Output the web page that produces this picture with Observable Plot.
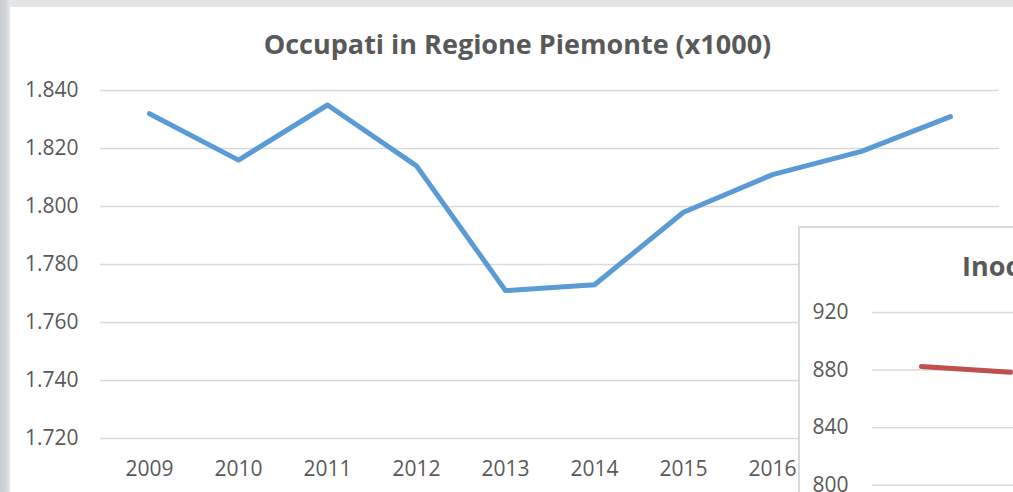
<!DOCTYPE html>
<html>
<head>
<meta charset="utf-8">
<script src="https://cdn.jsdelivr.net/npm/d3@7"></script>
<script src="https://cdn.jsdelivr.net/npm/@observablehq/plot@0.6"></script>
<style>
  html, body { margin: 0; padding: 0; width: 1013px; height: 492px; overflow: hidden; }
  body { position: relative; background: #e3e5e6; font-family: "Open Sans", sans-serif; }
  #leftstrip { position: absolute; left: 0; top: 0; width: 10px; height: 492px;
    background: linear-gradient(to right, #c9cdcf 0%, #d3d7d9 70%, #e9ebec 100%); }
  #panel { position: absolute; left: 10px; top: 7px; width: 1010px; height: 490px; background: #fff; }
  #title { position: absolute; left: 0; top: 26px; width: 1035px; text-align: center;
    font-weight: 700; font-size: 27px; color: #595959; white-space: nowrap; line-height: 36px; }
  #main { position: absolute; left: 0; top: 0; width: 1013px; }
  #inset { position: absolute; left: 798px; top: 226px; width: 600px; height: 400px;
    background: #fff; border: 2px solid #d9d9d9; box-sizing: border-box; }
  #insetplot { position: absolute; left: 799px; top: 227px; width: 1000px; height: 400px; }
  #insetplot svg, #main svg { max-width: none; }
  #insettitle { position: absolute; left: 962px; top: 248px; font-weight: 700; font-size: 27px;
    color: #595959; white-space: nowrap; line-height: 36px; }
</style>
</head>
<body>
<div id="leftstrip"></div>
<div id="panel"></div>
<div id="title">Occupati in Regione Piemonte (x1000)</div>
<div id="main"></div>
<div id="inset"></div>
<div id="insetplot"></div>
<div id="insettitle">Inoccupati</div>
<script>
// Main chart data
const years = ["2009","2010","2011","2012","2013","2014","2015","2016","2017","2018"];
const occupati = [1832, 1816, 1835, 1814, 1771, 1773, 1798, 1811, 1819, 1831];
const occTicks = [1720, 1740, 1760, 1780, 1800, 1820, 1840];
// x tick labels visible in the reference (the rest are hidden behind the inset chart)
const visibleYearTicks = ["2009","2010","2011","2012","2013","2014","2015","2016"];

// Inset chart data (only the visible part)
const insetYears = ["2009","2010"];
const inoccupati = [882.5, 878.5];
const insetTicks = [800, 840, 880, 920];

const fmtIt = d => d3.format(",")(d).replace(/,/g, ".");

const mainData = years.map((y, i) => ({year: y, value: occupati[i]}));
const insetData = insetYears.map((y, i) => ({year: y, value: inoccupati[i]}));

const textStyle = {fontFamily: "'Open Sans', sans-serif", fontSize: "21px", color: "#595959", background: "transparent", overflow: "visible", maxWidth: "none"};

const main = Plot.plot({
  width: 1013, height: 492,
  marginLeft: 100, marginRight: 14, marginTop: 90, marginBottom: 54,
  style: textStyle,
  x: {type: "point", domain: years, padding: 0.5, label: null},
  y: {domain: [1720, 1840], label: null},
  marks: [
    Plot.gridY(occTicks, {stroke: "#d9d9d9", strokeOpacity: 1, strokeWidth: 1.5}),
    Plot.axisY(occTicks, {tickSize: 0, tickPadding: 22, tickFormat: fmtIt, fill: "#595959", label: null}),
    Plot.axisX(visibleYearTicks, {tickSize: 0, tickPadding: 23, fill: "#595959", label: null}),
    Plot.line(mainData, {x: "year", y: "value", stroke: "#5b9bd5", strokeWidth: 5, strokeLinecap: "round", strokeLinejoin: "round"})
  ]
});
document.getElementById("main").appendChild(main);

const inset = Plot.plot({
  width: 1000, height: 400,
  marginLeft: 73, marginRight: 28, marginTop: 85, marginBottom: 27,
  style: textStyle,
  x: {type: "point", domain: years, padding: 0.5, label: null, axis: null},
  y: {domain: [720, 920], label: null},
  marks: [
    Plot.gridY(insetTicks, {stroke: "#d9d9d9", strokeOpacity: 1, strokeWidth: 1.5}),
    Plot.axisY(insetTicks, {tickSize: 0, tickPadding: 24, fill: "#595959", label: null}),
    Plot.line(insetData, {x: "year", y: "value", stroke: "#c0504d", strokeWidth: 5, strokeLinecap: "round", strokeLinejoin: "round"})
  ]
});
document.getElementById("insetplot").appendChild(inset);
</script>
</body>
</html>
